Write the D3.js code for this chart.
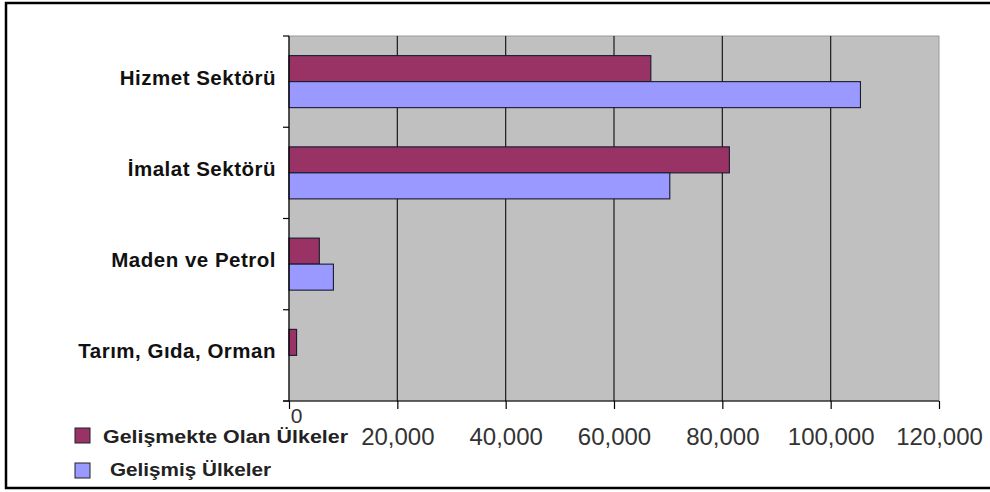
<!DOCTYPE html>
<html><head><meta charset="utf-8">
<script src="https://cdn.jsdelivr.net/npm/d3@7"></script>
<style>
body{margin:0;background:#fff;}
svg{display:block;font-family:"Liberation Sans",Arial,sans-serif;}
</style></head>
<body><svg id="c" width="990" height="492"></svg>
<script>
const categories = ["Hizmet Sektörü", "İmalat Sektörü", "Maden ve Petrol", "Tarım, Gıda, Orman"];
const seriesNames = ["Gelişmekte Olan Ülkeler", "Gelişmiş Ülkeler"];
const developing = [66800, 81300, 5600, 1400];
const developed = [105500, 70300, 8200, 0];
const xTicks = [0, 20000, 40000, 60000, 80000, 100000, 120000];
const colors = ["#993366", "#9999FF"];

const svg = d3.select("#c");
// outer frame
svg.append("rect").attr("x", 6).attr("y", 3).attr("width", 1000).attr("height", 485)
  .attr("fill", "#fff").attr("stroke", "#000").attr("stroke-width", 2.5);

const L = 289, R = 939, T = 36, B = 401;
const x = d3.scaleLinear().domain([0, 120000]).range([L, R]);
const y = d3.scaleBand().domain(categories).range([T, B]).paddingInner(0.43).paddingOuter(0.215);
const ys = d3.scaleBand().domain([0, 1]).range([0, y.bandwidth()]);
const step = y.step();

// plot area
svg.append("rect").attr("x", L).attr("y", T).attr("width", R - L).attr("height", B - T)
  .attr("fill", "#C0C0C0").attr("stroke", "#999").attr("stroke-width", 1);

// gridlines
svg.append("g").selectAll("line").data(xTicks.slice(1, -1)).join("line")
  .attr("x1", d => x(d)).attr("x2", d => x(d)).attr("y1", T).attr("y2", B)
  .attr("stroke", "#1a1a1a").attr("stroke-width", 1.2);

// bars
const data = categories.map((c, i) => ({c, v: [developing[i], developed[i]]}));
const g = svg.append("g");
data.forEach(d => {
  d.v.forEach((v, s) => {
    g.append("rect")
      .attr("x", x(0)).attr("y", y(d.c) + ys(s))
      .attr("width", x(v) - x(0)).attr("height", ys.bandwidth())
      .attr("fill", colors[s]).attr("stroke", "#1a1a30").attr("stroke-width", 1.1);
  });
});

// axes
const xAxis = d3.axisBottom(x).tickValues(xTicks).tickSize(8).tickFormat(d3.format(","));
const ax = svg.append("g").attr("transform", `translate(0,${B})`).call(xAxis);
ax.select(".domain").attr("d", `M${L - 6},0H${R}`).attr("stroke", "#000").attr("stroke-width", 1.2);
ax.selectAll(".tick line").attr("stroke", "#000").attr("stroke-width", 1.2);
ax.selectAll(".tick text").attr("font-size", 24).attr("fill", "#333")
  .attr("font-family", "\"Liberation Sans\",Arial,sans-serif")
  .attr("y", 0).attr("dy", 44);
ax.selectAll(".tick text").filter(d => d === 0)
  .attr("font-size", 21).attr("dy", 22).attr("dx", 7);

// y axis line and boundary ticks
const bounds = categories.map(c => y(c) - step * 0.215).concat([B]);
svg.append("line").attr("x1", L).attr("x2", L).attr("y1", T).attr("y2", B)
  .attr("stroke", "#000").attr("stroke-width", 1.2);
svg.append("g").selectAll("line").data(bounds).join("line")
  .attr("x1", L - 6).attr("x2", L).attr("y1", d => d).attr("y2", d => d)
  .attr("stroke", "#000").attr("stroke-width", 1.2);

// category labels
svg.append("g").selectAll("text").data(categories).join("text")
  .attr("x", 276).attr("y", c => y(c) + y.bandwidth() / 2 + 3)
  .attr("text-anchor", "end").attr("font-size", 20.5).attr("font-weight", "bold")
  .attr("letter-spacing", 0.5).attr("fill", "#111").text(c => c);

// legend
const legendX = [103, 110];
const legendLen = [245, 161];
const lg = svg.append("g");
seriesNames.forEach((n, i) => {
  lg.append("rect").attr("x", 75).attr("y", 428 + i * 35).attr("width", 15).attr("height", 15)
    .attr("fill", colors[i]).attr("stroke", "#222").attr("stroke-width", 1);
  lg.append("text").attr("x", legendX[i]).attr("y", 443 + i * 33)
    .attr("font-size", 17.5).attr("font-weight", "bold")
    .attr("textLength", legendLen[i]).attr("lengthAdjust", "spacingAndGlyphs")
    .attr("fill", "#222").text(n);
});
</script></body></html>
